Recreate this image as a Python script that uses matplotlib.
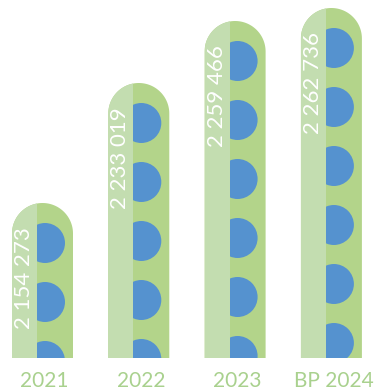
import numpy as np
import matplotlib
matplotlib.use("Agg")
import matplotlib.pyplot as plt
import matplotlib.patches as patches
from matplotlib.path import Path

# data
years = ["2021", "2022", "2023", "BP 2024"]
values = [2154273, 2233019, 2259466, 2262736]
# drawn bar heights (the original axis is not linear)
bar_heights = [155, 275, 337, 350]

labels = [f"{v:,}".replace(",", " ") for v in values]

light = "#c3ddb0"
dark = "#b3d48a"
blue = "#5592cf"
label_col = "#a9d18e"

W, H = 376, 391
fig = plt.figure(figsize=(W / 100, H / 100), dpi=100)
ax = fig.add_axes([0, 0, 1, 1])
ax.set_xlim(0, W)
ax.set_ylim(0, H)
ax.set_aspect("equal")
ax.axis("off")

base = 33
width = 61
r = width / 2
left_w = 25
x0 = 42.5
step = 96.3
dot_r = 20
dot_off = 8
dot_gap = 59
font = ["Lato", "DejaVu Sans"]


def pill(cx, top):
    # rectangle with a round top
    t = np.linspace(0, np.pi, 60)
    ys = top - r
    xs = list(cx + r * np.cos(t)) + [cx - r, cx + r]
    yv = list(ys + r * np.sin(t)) + [base, base]
    verts = list(zip(xs, yv)) + [(xs[0], yv[0])]
    codes = [Path.MOVETO] + [Path.LINETO] * (len(verts) - 2) + [Path.CLOSEPOLY]
    return Path(verts, codes)


for i, (h, lab, yr) in enumerate(zip(bar_heights, labels, years)):
    cx = x0 + step * i
    top = base + h
    shape = patches.PathPatch(pill(cx, top), facecolor=dark, edgecolor="none")
    ax.add_patch(shape)
    divider = cx - r + left_w

    cy = top - 40
    while cy > base - dot_r:
        c = patches.Circle((divider + dot_off, cy), dot_r, facecolor=blue,
                           edgecolor="none")
        ax.add_patch(c)
        c.set_clip_path(shape)
        cy -= dot_gap

    lft = patches.Rectangle((cx - r, base), left_w, h + 5, facecolor=light,
                            edgecolor="none")
    ax.add_patch(lft)
    lft.set_clip_path(shape)

    ax.text(cx - r + left_w / 2 - 0.5, top - 24, lab, rotation=90, ha="center",
            va="top", color="white", fontsize=16, family=font, zorder=5)
    ax.text(cx + 2, 10, yr, ha="center", va="center", color=label_col,
            fontsize=15, family=font)

fig.savefig("out.png", dpi=100)
